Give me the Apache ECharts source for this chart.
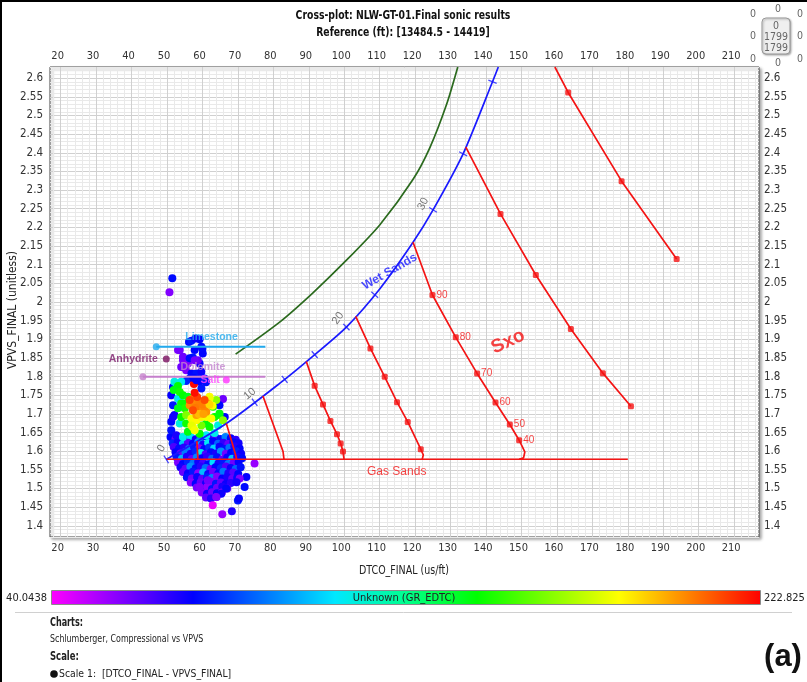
<!DOCTYPE html>
<html>
<head>
<meta charset="utf-8">
<script src="https://cdn.jsdelivr.net/npm/echarts@6/dist/echarts.min.js"></script>
<style>
html,body{margin:0;padding:0;background:#fff;}
#chart{width:807px;height:682px;}
</style>
</head>
<body>
<div id="chart"></div>
<script>
// ---- axis extents ----
const dtRange = [17, 217];
const vpvsRange = [1.37, 2.63];
const grRange = [40.0438, 222.825];
const grColors = ['#ff00ff','#8000ff','#0000ff','#0074ff','#00e8ff','#00ff8e','#00ff00','#80ff00','#ffff00','#ff8000','#ff0000'];

// ---- log samples: [DTCO_FINAL, VPVS_FINAL, GR_EDTC] ----
const logPoints = [
  // main low-GR body
  [51.0,1.638,77],[52.4,1.633,60],[53.8,1.637,95],[55.3,1.634,78],[56.7,1.639,112],[58.1,1.632,74],[59.5,1.636,94],[60.9,1.640,80],[62.3,1.634,72],[63.7,1.637,63],[65.1,1.633,79],[66.5,1.638,97],[68.0,1.635,76],[69.4,1.631,70],
  [51.6,1.621,82],[53.0,1.625,75],[54.5,1.619,108],[55.9,1.623,64],[57.3,1.620,77],[58.8,1.624,100],[60.2,1.618,73],[61.6,1.622,115],[63.0,1.626,77],[64.4,1.620,92],[65.9,1.623,70],[67.3,1.619,62],[68.7,1.624,78],[70.2,1.621,74],
  [51.9,1.611,66],[53.4,1.607,78],[54.8,1.610,71],[56.2,1.606,98],[57.6,1.612,80],[59.1,1.608,58],[60.5,1.605,76],[61.9,1.610,84],[63.3,1.607,110],[64.8,1.612,75],[66.2,1.606,79],[67.6,1.609,94],[69.0,1.613,72],[70.5,1.607,77],
  [52.4,1.597,76],[53.8,1.594,61],[55.2,1.598,96],[56.7,1.593,74],[58.1,1.599,82],[59.5,1.595,116],[60.9,1.592,65],[62.4,1.597,78],[63.8,1.594,73],[65.2,1.599,99],[66.6,1.593,60],[68.1,1.596,77],[69.5,1.600,81],[70.9,1.594,75],
  [52.7,1.584,80],[54.2,1.580,105],[55.6,1.585,73],[57.0,1.579,62],[58.4,1.583,97],[59.9,1.581,76],[61.3,1.586,70],[62.7,1.580,93],[64.1,1.584,79],[65.6,1.578,63],[67.0,1.583,75],[68.4,1.580,108],[69.8,1.585,72],[71.2,1.581,78],
  [53.1,1.570,59],[54.5,1.566,77],[55.9,1.571,82],[57.4,1.567,95],[58.8,1.572,74],[60.2,1.568,66],[61.6,1.565,78],[63.1,1.570,112],[64.5,1.567,73],[65.9,1.572,80],[67.3,1.566,96],[68.8,1.569,61],[70.2,1.571,76],
  [53.8,1.557,74],[55.2,1.553,63],[56.6,1.558,99],[58.1,1.554,78],[59.5,1.559,71],[60.9,1.555,94],[62.3,1.552,60],[63.7,1.557,77],[65.2,1.554,83],[66.6,1.559,65],[68.0,1.555,75],[69.4,1.552,92],[70.8,1.557,79],
  [54.5,1.544,62],[55.9,1.540,76],[57.3,1.545,80],[58.8,1.541,57],[60.2,1.543,106],[61.6,1.539,74],[63.0,1.544,61],[64.5,1.540,78],[65.9,1.545,95],[67.3,1.541,72],[68.7,1.543,64],[70.1,1.539,77],
  [55.6,1.530,79],[57.0,1.527,60],[58.5,1.531,75],[59.9,1.526,64],[61.3,1.530,81],[62.7,1.528,97],[64.1,1.532,58],[65.6,1.527,76],[67.0,1.530,73],[68.4,1.526,62],[69.8,1.529,78],
  [56.7,1.516,57],[58.1,1.513,77],[59.5,1.517,62],[61.0,1.514,74],[62.4,1.518,59],[63.8,1.513,80],[65.2,1.516,63],[66.6,1.512,75],[68.0,1.515,71],
  [58.4,1.503,60],[59.9,1.500,76],[61.3,1.504,56],[62.7,1.499,79],[64.1,1.502,61],[65.6,1.505,73],[67.0,1.500,64],
  [59.8,1.489,58],[61.3,1.486,75],[62.7,1.490,61],[64.1,1.487,77],[65.5,1.489,60],
  [61.0,1.476,63],[62.4,1.473,72],[64.0,1.477,59],
  // lower scatter
  [74.7,1.567,55],[72.4,1.531,76],[71.9,1.504,78],[70.5,1.527,58],[69.6,1.517,74],[66.7,1.500,77],[65.3,1.486,75],[63.9,1.477,58],[70.0,1.468,80],[62.9,1.455,43],[65.6,1.431,55],[68.3,1.439,72],[70.3,1.473,76],[59.2,1.504,58],[61.5,1.522,60],
  // middle edges
  [51.7,1.772,78],[51.2,1.750,76],[51.7,1.723,80],[52.1,1.697,75],[51.2,1.679,77],[51.7,1.692,74],[51.2,1.656,79],[52.6,1.643,73],[59.2,1.786,77],[59.7,1.768,80],[56.4,1.795,76],[55.4,1.788,82],[66.3,1.692,76],[65.8,1.740,61],[64.8,1.723,78],
  // cyan
  [52.1,1.786,117],[54.0,1.786,115],[52.8,1.781,120],[53.1,1.741,118],[53.6,1.737,113],[64.4,1.669,118],[61.1,1.643,114],[63.4,1.649,116],[54.5,1.638,117],[53.6,1.674,119],
  // green
  [53.1,1.775,150],[51.9,1.764,148],[53.6,1.759,152],[54.5,1.750,150],[55.9,1.746,147],[54.0,1.728,151],[55.0,1.728,149],[55.0,1.715,153],[53.1,1.715,146],[54.0,1.692,150],[55.4,1.674,152],[55.9,1.652,148],[59.2,1.647,150],[62.0,1.665,151],[61.1,1.674,149],[63.0,1.719,152],[63.4,1.692,150],[64.8,1.697,151],[64.8,1.701,148],
  // yellow-green
  [55.4,1.697,168],[63.9,1.737,170],[59.7,1.669,166],[65.8,1.683,169],
  // yellow
  [62.0,1.746,186],[62.0,1.741,184],[58.7,1.706,188],[62.5,1.688,186],[56.9,1.688,185],[58.3,1.683,187],[57.3,1.665,186],[56.9,1.669,183],[57.8,1.656,185],[59.7,1.692,188],[61.1,1.692,185],[62.8,1.722,186],
  // orange
  [56.4,1.723,203],[57.8,1.728,204],[59.2,1.732,205],[59.7,1.715,203],[61.1,1.706,202],[60.6,1.719,204],[58.3,1.697,200],[57.0,1.740,203],[60.0,1.725,205],[61.4,1.728,204],[58.0,1.716,206],[59.0,1.700,196],[60.3,1.700,200],[62.0,1.725,192],
  // red-orange and red
  [60.6,1.737,212],[56.4,1.737,213],[57.3,1.710,212],[58.5,1.745,214],[57.6,1.780,222],[57.8,1.757,221],
  // upper tail
  [56.2,1.893,78],[59.2,1.900,76],[60.0,1.875,79],[57.8,1.871,77],[53.1,1.871,59],[54.5,1.844,60],[55.9,1.835,58],[57.3,1.851,80],[59.2,1.835,76],[54.0,1.826,61],[55.4,1.817,59],[56.9,1.808,77],[58.3,1.808,79],[59.7,1.813,75],[60.1,1.795,78],[58.7,1.844,62],[60.1,1.862,77],[56.9,1.896,80],[58.0,1.902,75],[59.7,1.880,78],[53.6,1.871,60],[55.3,1.844,58],[54.5,1.853,61],[56.4,1.849,78],[57.8,1.844,60],[58.3,1.790,76],[61.0,1.785,79],[57.5,1.796,77],[60.6,1.795,80],
  [51.5,2.064,78],[50.7,2.026,58]
];

// ---- chart overlay: trend lines ----
const shaleTrend = [[69.36,1.8603],[81.78,1.9462],[91.10,2.0241],[100.70,2.1127],[110.01,2.2066],[119.33,2.3275],[124.13,2.4134],[128.93,2.5315],[132.03,2.63]];
const wetSandLine = [[49.8,1.578],[66.74,1.6743],[81.78,1.7817],[91.19,1.855],[100.61,1.9328],[110.01,2.0348],[119.41,2.160],[125.06,2.2469],[133.53,2.3972],[141.83,2.5905],[143.46,2.63]];
const gasSandLine = [[49.8,1.5785],[180.0,1.5785]];

// porosity marks along the wet-sand line: [DT, VPVS, label]
const porosityTicks = [[49.8,1.578,'0'],[74.73,1.7314,'10'],[83.2,1.7928,''],[91.66,1.8589,''],[100.61,1.9328,'20'],[108.6,2.0195,''],[125.06,2.2469,'30'],[133.53,2.3972,''],[141.83,2.5905,'']];

// ---- Sxo curves (constant porosity, wet sand -> gas sand) ----
const sxoDotsC = [[91.66,1.7752],[94.01,1.7253],[96.10,1.6813],[97.96,1.6456],[99.0,1.6206],[99.65,1.5991]];
const sxoDotsD = [[107.39,1.8756],[111.42,1.7994],[114.90,1.7315],[117.92,1.6786],[121.59,1.6053]];
const sxoDotsE = [[124.89,2.0187,90],[131.47,1.9052,80],[137.48,1.8085,70],[142.67,1.7307,60],[146.71,1.6716,50],[149.34,1.6295,40]];
const sxoDotsF = [[144.08,2.2362],[154.05,2.0724],[163.93,1.9274],[172.96,1.8093],[180.87,1.7207]];
const sxoDotsG = [[163.17,2.5618],[178.24,2.324],[193.77,2.1154]];

const sxoCurveA0 = [[58.44,1.627],[58.6,1.600],[58.72,1.5785]];
const sxoCurveA = [[66.74,1.6743],[68.3,1.625],[69.5,1.585],[69.6,1.5785]];
const sxoCurveB = [[77.07,1.748],[82.72,1.600],[83.0,1.5785]];
const sxoCurveC = [[89.3,1.8403], ...sxoDotsC, [99.94,1.5785]];
const sxoCurveD = [[103.24,1.9613], ...sxoDotsD, [122.3,1.590],[122.0,1.5785]];
const sxoCurveE = [[119.41,2.160], ...sxoDotsE.map(d => [d[0], d[1]]), [150.94,1.598],[150.58,1.582],[149.34,1.5785]];
const sxoCurveF = [[134.29,2.415], ...sxoDotsF];
const sxoCurveG = [[159.42,2.63], ...sxoDotsG];

// ---- mineral references ----
const limestoneLine = [[46.98,1.88],[77.75,1.88]];
const dolomiteLine = [[43.2,1.7994],[77.75,1.7994]];
const saltPoint = [66.74,1.7906];
const anhydritePoint = [49.8,1.8469];

// ---- styling ----
const NARROW = "'Liberation Sans Narrow','DejaVu Sans Condensed','Liberation Sans',sans-serif";
const ARIAL = "'Liberation Sans',Arial,sans-serif";
const RED = '#f41414';
const BLUE = '#1a1aff';
const GRID_MAJOR = '#d0d0d0';
const GRID_MINOR = '#e9e9e9';
const NONE = 'rgba(0,0,0,0)';

// x ticks every 1 from 17: majors at multiples of 10, minors at even values
const xGridColors = [NONE, GRID_MINOR, NONE, GRID_MAJOR, NONE, GRID_MINOR, NONE, GRID_MINOR, NONE, GRID_MINOR];
// y ticks every 0.01 from 1.37: majors at multiples of 0.05
const yGridColors = [GRID_MINOR, GRID_MINOR, GRID_MINOR, GRID_MAJOR, GRID_MINOR];

const isMult = (v, step) => Math.abs(v / step - Math.round(v / step)) < 1e-6;
const xLabel = v => (isMult(v, 10) && v >= 20 && v <= 210) ? String(Math.round(v)) : '';
const yLabel = v => (isMult(v, 0.05) && v >= 1.399 && v <= 2.601) ? String(parseFloat(v.toFixed(2))) : '';

// tick angle along the wet-sand line, and rotated label placement
const tickAngles = [31, 37, 39, 41, 44, 49, 58, 63, 68];
const tickLabelStyle = {
  '0': {offset: [7, -9.8], rotate: 60},
  '10': {offset: [1.6, -9.6], rotate: 40},
  '20': {offset: [2.3, -11.9], rotate: 55},
  '30': {offset: [0.6, -11.6], rotate: 62}
};

function xAxisDef(pos, grid) {
  return {
    type: 'value', position: pos, min: dtRange[0], max: dtRange[1], interval: 1,
    axisLine: {show: false}, axisTick: {show: false},
    axisLabel: {interval: 0, formatter: xLabel, margin: pos === 'top' ? 5 : 6, color: '#333', fontSize: 11, fontFamily: NARROW, padding: [0, 6, 0, 0]},
    splitLine: {show: grid, interval: 0, lineStyle: {color: xGridColors, width: 1}}
  };
}
function yAxisDef(pos, grid) {
  return {
    type: 'value', position: pos, min: vpvsRange[0], max: vpvsRange[1], interval: 0.01,
    axisLine: {show: false}, axisTick: {show: false},
    axisLabel: {interval: 0, formatter: yLabel, margin: pos === 'left' ? 7 : 5, color: '#333', fontSize: 11.5, fontFamily: NARROW},
    splitLine: {show: grid, interval: 0, lineStyle: {color: yGridColors, width: 1}}
  };
}
function curve(data, color, extra) {
  return Object.assign({
    type: 'line', data: data, symbol: 'none', showSymbol: false, silent: true, z: 5,
    lineStyle: {color: color, width: 1.7}
  }, extra || {});
}
function dots(data, extra) {
  return Object.assign({
    type: 'scatter', data: data, symbol: 'roundRect', symbolSize: 6, silent: true, z: 6,
    itemStyle: {color: RED}
  }, extra || {});
}
function note(value, text, style) {
  return {value: value, label: Object.assign({show: true, position: 'inside', formatter: text, fontFamily: ARIAL}, style)};
}
function txt(x, y, text, font, extra) {
  return Object.assign({type: 'text', x: x, y: y, style: {text: text, font: font, fill: '#222', align: 'left', verticalAlign: 'middle'}}, extra || {});
}
function counter(x, y, text) {
  return {type: 'text', x: x, y: y, style: {text: text, font: '10.5px ' + NARROW, fill: '#666', align: 'center', verticalAlign: 'middle'}};
}

const chart = echarts.init(document.getElementById('chart'), null, {renderer: 'canvas'});

chart.setOption({
  animation: false,
  backgroundColor: '#ffffff',
  textStyle: {fontFamily: NARROW},
  grid: {
    left: 50, top: 67, right: 48, bottom: 145, show: true, backgroundColor: '#ffffff',
    borderColor: '#4a4a4a', borderWidth: 1,
    shadowColor: 'rgba(0,0,0,0.35)', shadowBlur: 3, shadowOffsetX: 2, shadowOffsetY: 2
  },
  xAxis: [xAxisDef('bottom', true), xAxisDef('top', false)],
  yAxis: [yAxisDef('left', true), yAxisDef('right', false)],
  visualMap: {
    type: 'continuous', orient: 'horizontal', seriesIndex: 0, dimension: 2,
    min: grRange[0], max: grRange[1], left: 51, top: 590, padding: 0,
    itemWidth: 15, itemHeight: 710, calculable: false, hoverLink: false,
    inRange: {color: grColors}
  },
  series: [
    {
      type: 'scatter', data: logPoints, symbol: 'circle', symbolSize: 8, z: 2, silent: true,
      itemStyle: {opacity: 1}
    },
    curve(shaleTrend, '#2b6a1e', {smooth: 0.25}),
    curve(wetSandLine, BLUE, {smooth: 0.25}),
    curve(gasSandLine, RED),
    curve(sxoCurveA0, RED),
    curve(sxoCurveA, RED),
    curve(sxoCurveB, RED),
    curve(sxoCurveC, RED),
    curve(sxoCurveD, RED),
    curve(sxoCurveE, RED),
    curve(sxoCurveF, RED),
    curve(sxoCurveG, RED),
    dots(sxoDotsC), dots(sxoDotsD), dots(sxoDotsF), dots(sxoDotsG),
    dots(sxoDotsE, {
      label: {show: true, position: 'right', distance: 1, color: RED, fontSize: 10, fontFamily: ARIAL,
        formatter: p => String(p.value[2])}
    }),
    // porosity marks on the wet-sand line
    {
      type: 'scatter', silent: true, z: 7, symbol: 'rect', symbolSize: [1.3, 9],
      itemStyle: {color: BLUE},
      data: porosityTicks.map((t, i) => {
        const ls = tickLabelStyle[t[2]];
        return {
          value: t, symbolRotate: tickAngles[i],
          label: ls ? {show: true, position: 'inside', formatter: t[2], color: '#555', fontSize: 11, fontFamily: ARIAL,
            rotate: ls.rotate, offset: ls.offset} : {show: false}
        };
      })
    },
    // mineral lines
    curve(limestoneLine, '#22aaee', {lineStyle: {color: '#22aaee', width: 2}}),
    curve(dolomiteLine, '#c57fcc', {lineStyle: {color: '#c57fcc', width: 2}}),
    {
      type: 'scatter', silent: true, z: 7, symbol: 'circle', symbolSize: 7,
      data: [
        {value: limestoneLine[0], itemStyle: {color: '#22aaee'}},
        {value: dolomiteLine[0], itemStyle: {color: '#c57fcc'}},
        {value: saltPoint, itemStyle: {color: '#ff33ff'},
          label: {show: true, position: 'left', distance: 3, formatter: 'Salt', color: '#ff44ff', fontWeight: 'bold', fontSize: 10.5, fontFamily: ARIAL}},
        {value: anhydritePoint, itemStyle: {color: '#7a1060'},
          label: {show: true, position: 'left', distance: 5, formatter: 'Anhydrite', color: '#7a1a6a', fontWeight: 'bold', fontSize: 10.5, fontFamily: ARIAL}}
      ]
    },
    // chart annotations
    {
      type: 'scatter', silent: true, z: 8, symbolSize: 1, itemStyle: {color: NONE},
      data: [
        note([62.59, 1.9068], 'Limestone', {color: '#22aaee', fontWeight: 'bold', fontSize: 10.5}),
        note([60.13, 1.8262], 'Dolomite', {color: '#c384cf', fontWeight: 'bold', fontSize: 10.5}),
        note([112.84, 2.0813], 'Wet Sands', {color: BLUE, fontWeight: 'bold', fontSize: 12, rotate: 30}),
        note([114.8, 1.5463], 'Gas Sands', {color: RED, fontSize: 12}),
        note([146.23, 1.8934], 'Sxo', {color: RED, fontWeight: 'bold', fontSize: 19, rotate: 25})
      ]
    }
  ],
  graphic: [
    {type: 'rect', shape: {x: 0, y: 0, width: 807, height: 2}, style: {fill: '#000'}, z: 100},
    {type: 'rect', shape: {x: 0, y: 0, width: 2, height: 682}, style: {fill: '#000'}, z: 100},
    {type: 'text', x: 403, y: 16, scaleX: 0.86, style: {text: 'Cross-plot: NLW-GT-01.Final sonic results', font: 'bold 12px ' + NARROW, fill: '#111', align: 'center', verticalAlign: 'middle'}},
    {type: 'text', x: 403, y: 33, scaleX: 0.86, style: {text: 'Reference (ft): [13484.5 - 14419]', font: 'bold 12px ' + NARROW, fill: '#111', align: 'center', verticalAlign: 'middle'}},
    // out-of-range counters
    {type: 'rect', shape: {x: 762, y: 18, width: 28, height: 36, r: 4}, style: {fill: '#efefef', stroke: '#999', lineWidth: 1, shadowBlur: 2, shadowColor: 'rgba(0,0,0,0.3)', shadowOffsetX: 1, shadowOffsetY: 1}},
    counter(776, 26, '0'), counter(776, 37, '1799'), counter(776, 48, '1799'),
    counter(753, 14, '0'), counter(778, 9, '0'), counter(800, 14, '0'),
    counter(753, 36, '0'), counter(800, 36, '0'),
    counter(753, 59, '0'), counter(778, 63, '0'), counter(800, 59, '0'),
    // axis names
    {type: 'text', x: 13, y: 310, rotation: Math.PI / 2, style: {text: 'VPVS_FINAL (unitless)', font: '12px ' + NARROW, fill: '#222', align: 'center', verticalAlign: 'middle'}},
    {type: 'text', x: 404, y: 571, scaleX: 0.88, style: {text: 'DTCO_FINAL (us/ft)', font: '12px ' + NARROW, fill: '#222', align: 'center', verticalAlign: 'middle'}},
    // colour bar frame and labels
    {type: 'rect', shape: {x: 51.5, y: 590.5, width: 709, height: 14}, style: {fill: null, stroke: '#8a8a8a', lineWidth: 1}, z: 50},
    {type: 'text', x: 47, y: 598, style: {text: '40.0438', font: '11px ' + NARROW, fill: '#222', align: 'right', verticalAlign: 'middle'}},
    {type: 'text', x: 764, y: 598, style: {text: '222.825', font: '11px ' + NARROW, fill: '#222', align: 'left', verticalAlign: 'middle'}},
    {type: 'text', x: 404, y: 598, z: 60, style: {text: 'Unknown (GR_EDTC)', font: '11px ' + NARROW, fill: '#222', align: 'center', verticalAlign: 'middle'}},
    // footer
    {type: 'line', shape: {x1: 15, y1: 612.5, x2: 792, y2: 612.5}, style: {stroke: '#d0d0d0', lineWidth: 1}},
    txt(50, 623, 'Charts:', 'bold 11.5px ' + NARROW, {scaleX: 0.78}),
    txt(50, 639, 'Schlumberger, Compressional vs VPVS', '11px ' + NARROW, {scaleX: 0.8}),
    txt(50, 657, 'Scale:', 'bold 11.5px ' + NARROW, {scaleX: 0.82}),
    {type: 'circle', shape: {cx: 54, cy: 674, r: 3.8}, style: {fill: '#111'}},
    txt(59, 674, 'Scale 1:  [DTCO_FINAL - VPVS_FINAL]', '11px ' + NARROW, {scaleX: 0.94}),
    {type: 'text', x: 783, y: 657, style: {text: '(a)', font: 'bold 31px ' + ARIAL, fill: '#111', align: 'center', verticalAlign: 'middle'}}
  ]
});
</script>
</body>
</html>
